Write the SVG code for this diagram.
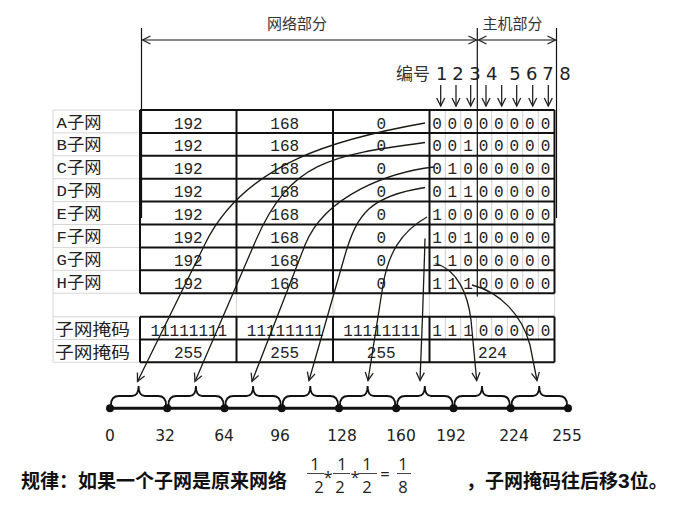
<svg xmlns="http://www.w3.org/2000/svg" width="685" height="514" viewBox="0 0 685 514">
<style>
.g{stroke:#d6d6d6;stroke-width:1;fill:none}
.tb{stroke:#111;stroke-width:2;fill:none}
.sep{stroke:#cfcfcf;stroke-width:1}
.thin{stroke:#111;stroke-width:1.2}
.c{font-family:"Liberation Mono",monospace;font-size:16px;fill:#222;text-anchor:middle}
.l{font-family:"Liberation Mono","Noto Sans CJK SC",monospace;font-size:15.5px;fill:#222}
.h{font-family:"Noto Sans CJK SC",sans-serif;font-size:15px;fill:#333;text-anchor:middle}
.n{font-family:"DejaVu Sans",sans-serif;fill:#222;text-anchor:middle}
.cv{fill:none;stroke:#1c1a14;stroke-width:1.3}
.br{fill:none;stroke:#111;stroke-width:1.8}
.b{font-family:"Noto Sans CJK SC",sans-serif;font-weight:bold;font-size:19px;fill:#111}
.f{font-family:"Open Sans",sans-serif;font-size:16.5px;fill:#222;text-anchor:middle}
</style>
<defs>
<marker id="ah" viewBox="-10 -6 12 12" refX="0" refY="0" markerWidth="12" markerHeight="12" markerUnits="userSpaceOnUse" orient="auto-start-reverse"><path d="M-8,-4 L0,0 L-8,4" fill="none" stroke="#222" stroke-width="1.3"/></marker>
</defs>

<g id="header">
<line class="thin" x1="141.5" y1="28" x2="141.5" y2="218"/>
<line class="thin" x1="556.5" y1="28" x2="556.5" y2="218"/>
<line class="thin" x1="477.3" y1="28" x2="477.3" y2="296.5"/>
<line class="thin" x1="142.5" y1="40" x2="476.5" y2="40" marker-start="url(#ah)" marker-end="url(#ah)"/>
<line class="thin" x1="478.5" y1="40" x2="555.5" y2="40" marker-start="url(#ah)" marker-end="url(#ah)"/>
<text class="h" x="297" y="28.5">网络部分</text>
<text class="h" x="512.5" y="28.5">主机部分</text>
<text class="h" x="413" y="79.5" style="font-size:17px">编号</text>
<text class="n" style="font-size:18px" x="441.7 450 458 466.5 475 483.3 491.7 503.3 515 523.3 531.7 540 548 556.5 565" y="80">1 2 3 4 5 6 7 8</text>
<g class="thin">
<line x1="440.7" y1="85" x2="440.7" y2="106" marker-end="url(#ah)"/>
<line x1="456" y1="85" x2="456" y2="106" marker-end="url(#ah)"/>
<line x1="470.7" y1="85" x2="470.7" y2="106" marker-end="url(#ah)"/>
<line x1="486" y1="85" x2="486" y2="106" marker-end="url(#ah)"/>
<line x1="501.7" y1="85" x2="501.7" y2="106" marker-end="url(#ah)"/>
<line x1="516.7" y1="85" x2="516.7" y2="106" marker-end="url(#ah)"/>
<line x1="532.7" y1="85" x2="532.7" y2="106" marker-end="url(#ah)"/>
<line x1="548.3" y1="85" x2="548.3" y2="106" marker-end="url(#ah)"/>
</g>
</g>

<g id="grid-gray">
<path class="g" d="M53,110 V362.3 M53,110 H140 M53,132.9 H140 M53,155.8 H140 M53,178.7 H140 M53,201.6 H140 M53,224.5 H140 M53,247.4 H140 M53,270.3 H140 M53,293.2 H140 M53,316.7 H140 M53,339.5 H140 M53,362.3 H140 M236.5,293.2 V316.7 M333,293.2 V316.7 M429.5,293.2 V316.7 M554.5,293.2 V316.7"/>
</g>

<g id="table">
<path class="sep" d="M445.3,110 V293.2 M460.7,110 V293.2 M491.7,110 V293.2 M507.3,110 V293.2 M522.7,110 V293.2 M538.3,110 V293.2 M445.3,316.7 V339.5 M460.7,316.7 V339.5 M476.5,316.7 V339.5 M491.7,316.7 V339.5 M507.3,316.7 V339.5 M522.7,316.7 V339.5 M538.3,316.7 V339.5"/>
<path class="tb" d="M140,110 H554.5 M140,132.9 H554.5 M140,155.8 H554.5 M140,178.7 H554.5 M140,201.6 H554.5 M140,224.5 H554.5 M140,247.4 H554.5 M140,270.3 H554.5 M140,293.2 H554.5 M140,110 V293.2 M236.5,110 V293.2 M333,110 V293.2 M429.5,110 V293.2 M554.5,110 V293.2"/>
<path class="tb" d="M140,316.7 H554.5 M140,339.5 H554.5 M140,362.3 H554.5 M140,316.7 V362.3 M236.5,316.7 V362.3 M333,316.7 V362.3 M429.5,316.7 V362.3 M554.5,316.7 V362.3"/>
</g>

<g id="labels">
<text class="l" x="56.5" y="127.5" textLength="45" lengthAdjust="spacingAndGlyphs">A子网</text>
<text class="l" x="56.5" y="150.4" textLength="45" lengthAdjust="spacingAndGlyphs">B子网</text>
<text class="l" x="56.5" y="173.3" textLength="45" lengthAdjust="spacingAndGlyphs">C子网</text>
<text class="l" x="56.5" y="196.2" textLength="45" lengthAdjust="spacingAndGlyphs">D子网</text>
<text class="l" x="56.5" y="219.1" textLength="45" lengthAdjust="spacingAndGlyphs">E子网</text>
<text class="l" x="56.5" y="242" textLength="45" lengthAdjust="spacingAndGlyphs">F子网</text>
<text class="l" x="56.5" y="264.9" textLength="45" lengthAdjust="spacingAndGlyphs">G子网</text>
<text class="l" x="56.5" y="287.8" textLength="45" lengthAdjust="spacingAndGlyphs">H子网</text>
<text class="l" x="55" y="334.8" textLength="75" lengthAdjust="spacingAndGlyphs">子网掩码</text>
<text class="l" x="55" y="357.6" textLength="75" lengthAdjust="spacingAndGlyphs">子网掩码</text>
</g>

<g id="cells">
<text class="c" x="188.3" y="128.5">192</text><text class="c" x="284.7" y="128.5">168</text><text class="c" x="381.2" y="128.5">0</text>
<text class="c" x="188.3" y="151.4">192</text><text class="c" x="284.7" y="151.4">168</text><text class="c" x="381.2" y="151.4">0</text>
<text class="c" x="188.3" y="174.3">192</text><text class="c" x="284.7" y="174.3">168</text><text class="c" x="381.2" y="174.3">0</text>
<text class="c" x="188.3" y="197.2">192</text><text class="c" x="284.7" y="197.2">168</text><text class="c" x="381.2" y="197.2">0</text>
<text class="c" x="188.3" y="220.1">192</text><text class="c" x="284.7" y="220.1">168</text><text class="c" x="381.2" y="220.1">0</text>
<text class="c" x="188.3" y="243">192</text><text class="c" x="284.7" y="243">168</text><text class="c" x="381.2" y="243">0</text>
<text class="c" x="188.3" y="265.9">192</text><text class="c" x="284.7" y="265.9">168</text><text class="c" x="381.2" y="265.9">0</text>
<text class="c" x="188.3" y="288.8">192</text><text class="c" x="284.7" y="288.8">168</text><text class="c" x="381.2" y="288.8">0</text>
<text class="c" x="437 444.6 452.3 460.1 468 475.7 483.5 491.1 498.8 506.5 514.3 522 529.8 537.6 545.5" y="128.5">0 0 0 0 0 0 0 0</text>
<text class="c" x="437 444.6 452.3 460.1 468 475.7 483.5 491.1 498.8 506.5 514.3 522 529.8 537.6 545.5" y="151.4">0 0 1 0 0 0 0 0</text>
<text class="c" x="437 444.6 452.3 460.1 468 475.7 483.5 491.1 498.8 506.5 514.3 522 529.8 537.6 545.5" y="174.3">0 1 0 0 0 0 0 0</text>
<text class="c" x="437 444.6 452.3 460.1 468 475.7 483.5 491.1 498.8 506.5 514.3 522 529.8 537.6 545.5" y="197.2">0 1 1 0 0 0 0 0</text>
<text class="c" x="437 444.6 452.3 460.1 468 475.7 483.5 491.1 498.8 506.5 514.3 522 529.8 537.6 545.5" y="220.1">1 0 0 0 0 0 0 0</text>
<text class="c" x="437 444.6 452.3 460.1 468 475.7 483.5 491.1 498.8 506.5 514.3 522 529.8 537.6 545.5" y="243">1 0 1 0 0 0 0 0</text>
<text class="c" x="437 444.6 452.3 460.1 468 475.7 483.5 491.1 498.8 506.5 514.3 522 529.8 537.6 545.5" y="265.9">1 1 0 0 0 0 0 0</text>
<text class="c" x="437 444.6 452.3 460.1 468 475.7 483.5 491.1 498.8 506.5 514.3 522 529.8 537.6 545.5" y="288.8">1 1 1 0 0 0 0 0</text>
<text class="c" x="188.8" y="335.5">11111111</text><text class="c" x="285.2" y="335.5">11111111</text><text class="c" x="381.7" y="335.5">11111111</text>
<text class="c" x="437 444.6 452.3 460.1 468 475.7 483.5 491.1 498.8 506.5 514.3 522 529.8 537.6 545.5" y="335.5">1 1 1 0 0 0 0 0</text>
<text class="c" x="188.3" y="358.3">255</text><text class="c" x="284.7" y="358.3">255</text><text class="c" x="381.2" y="358.3">255</text><text class="c" x="492.5" y="358.3">224</text>
</g>

<g id="connectors">
<path class="cv" d="M425,123 C340,138 245,162 205,244 L137.5,381.5" marker-end="url(#ah)"/>
<path class="cv" d="M425,142.5 C330,155 290,162 256,240 L195,381.5" marker-end="url(#ah)"/>
<path class="cv" d="M434,167 C390,172 325,195 305,245 L252,381.5" marker-end="url(#ah)"/>
<path class="cv" d="M425,187.5 C370,196 357,214 345,255 L309,380.5" marker-end="url(#ah)"/>
<path class="cv" d="M427,217 C400,232 388,255 383,285 L368,380.5" marker-end="url(#ah)"/>
<path class="cv" d="M425,238.5 Q423,310 420,380.5" marker-end="url(#ah)"/>
<path class="cv" d="M435.5,263.5 C458,270 468,295 471,320 L476.7,380.5" marker-end="url(#ah)"/>
<path class="cv" d="M472,285 C500,292 522,315 530,345 L537,380.5" marker-end="url(#ah)"/>
</g>

<g id="numberline">
<line x1="110" y1="408.3" x2="568" y2="408.3" stroke="#111" stroke-width="3"/>
<path class="br" d="M111,405 Q111,396 119,396 L132,396 Q138.6,396 138.6,386 Q138.6,396 145,396 L158,396 Q166,396 166,405"/>
<path class="br" d="M168.5,405 Q168.5,396 176.5,396 L189.5,396 Q195.9,396 195.9,386 Q195.9,396 202.3,396 L215.5,396 Q223.5,396 223.5,405"/>
<path class="br" d="M225.5,405 Q225.5,396 233.5,396 L246.7,396 Q253.1,396 253.1,386 Q253.1,396 259.5,396 L272.7,396 Q280.7,396 280.7,405"/>
<path class="br" d="M282.7,405 Q282.7,396 290.7,396 L303.9,396 Q310.3,396 310.3,386 Q310.3,396 316.7,396 L330,396 Q338,396 338,405"/>
<path class="br" d="M340,405 Q340,396 348,396 L361.2,396 Q367.6,396 367.6,386 Q367.6,396 374,396 L387.2,396 Q395.2,396 395.2,405"/>
<path class="br" d="M397.2,405 Q397.2,396 405.2,396 L418.4,396 Q424.8,396 424.8,386 Q424.8,396 431.2,396 L444.5,396 Q452.5,396 452.5,405"/>
<path class="br" d="M454.5,405 Q454.5,396 462.5,396 L475.6,396 Q482,396 482,386 Q482,396 488.4,396 L501.7,396 Q509.7,396 509.7,405"/>
<path class="br" d="M511.7,405 Q511.7,396 519.7,396 L532.8,396 Q539.2,396 539.2,386 Q539.2,396 545.6,396 L559,396 Q567,396 567,405"/>
<g fill="#111">
<circle cx="110" cy="408.3" r="4"/><circle cx="167.2" cy="408.3" r="4"/><circle cx="224.5" cy="408.3" r="4"/>
<circle cx="281.7" cy="408.3" r="4"/><circle cx="339" cy="408.3" r="4"/><circle cx="396.2" cy="408.3" r="4"/>
<circle cx="453.5" cy="408.3" r="4"/><circle cx="510.7" cy="408.3" r="4"/><circle cx="568" cy="408.3" r="4"/>
</g>
<g class="n" style="font-size:15.5px">
<text x="110" y="441">0</text><text x="165" y="441">32</text><text x="224" y="441">64</text>
<text x="280" y="441">96</text><text x="342" y="441">128</text><text x="401" y="441">160</text>
<text x="451" y="441">192</text><text x="514" y="441">224</text><text x="567" y="441">255</text>
</g>
</g>

<g id="rule">
<text class="b" x="21" y="488">规律：如果一个子网是原来网络</text>
<text class="f" x="315" y="470">1</text><text class="f" x="319" y="493">2</text>
<text class="f" x="328" y="483">*</text>
<text class="f" x="342" y="470">1</text><text class="f" x="340" y="493">2</text>
<text class="f" x="355" y="483">*</text>
<text class="f" x="367" y="470">1</text><text class="f" x="367" y="493">2</text>
<text class="f" x="385" y="479.5">=</text>
<text class="f" x="403" y="470">1</text><text class="f" x="403" y="493">8</text>
<path d="M307,473.5 H324 M333,473.5 H350 M358,473.5 H377 M397,473.5 H411" stroke="#444" stroke-width="1"/>
<text class="b" x="466" y="488">，子网掩码往后移<tspan style="font-family:'Liberation Sans',sans-serif;font-size:21px">3</tspan>位。</text>
</g>
</svg>
